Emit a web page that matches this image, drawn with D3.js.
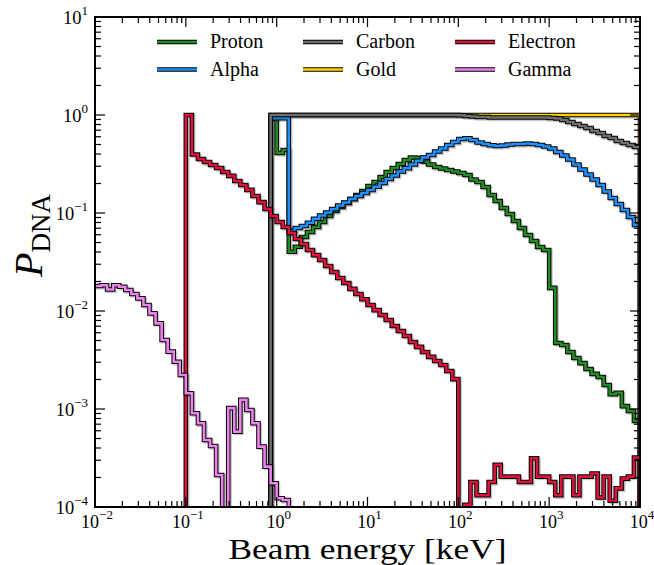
<!DOCTYPE html>
<html><head><meta charset="utf-8">
<script src="https://cdn.jsdelivr.net/npm/d3@7"></script>
<style>
body{margin:0;background:#fff}
svg{display:block}
text{font-family:"Liberation Serif","Times New Roman",serif;fill:#000}
</style>
</head><body>
<svg id="chart" width="654" height="565"></svg>
<script>
// ---- bin grid: logarithmic histogram bins ----
const xDomain = [1e-2, 1e4];
const binsPerDecade = 15;
const nBins = 90;

// ---- series (values per bin, starting at a bin index) ----
const protonStart = 29;
const protonValues = [0.93, 0.41, 0.44, 0.0403, 0.0453, 0.0569, 0.0640, 0.0720, 0.0809, 0.0931,
  0.1047, 0.1151, 0.1265, 0.1390, 0.1527, 0.1677, 0.1887, 0.2072, 0.2330, 0.2620,
  0.2878, 0.3162, 0.3475, 0.3681, 0.3640, 0.3356, 0.3126, 0.2946, 0.2846, 0.2748,
  0.2651, 0.2560, 0.2443, 0.2200, 0.2072, 0.1841, 0.1527, 0.1324, 0.1125, 0.0977,
  0.0828, 0.0703, 0.0597, 0.0518, 0.0450, 0.0419, 0.0172, 0.00471, 0.00450, 0.00382,
  0.00331, 0.00294, 0.00256, 0.00228, 0.00212, 0.00176, 0.00142, 0.00146, 0.00107, 0.000955,
  0.000755];

const alphaStart = 29;
const alphaValues = [0.93, 0.93, 0.93, 0.0655, 0.0703, 0.0736, 0.0796, 0.0875, 0.0943, 0.1012,
  0.1099, 0.1194, 0.1280, 0.1390, 0.1491, 0.1600, 0.1718, 0.1855, 0.2023, 0.2223,
  0.2415, 0.2650, 0.2858, 0.3126, 0.3419, 0.3681, 0.3908, 0.4246, 0.4550, 0.4943,
  0.5300, 0.5691, 0.5785, 0.5559, 0.5241, 0.5059, 0.4906, 0.4831, 0.4887, 0.5000,
  0.5059, 0.5059, 0.5117, 0.5059, 0.4943, 0.4775, 0.4550, 0.4190, 0.3864, 0.3516,
  0.3126, 0.2780, 0.2472, 0.2198, 0.1932, 0.1656, 0.1422, 0.1236, 0.1074, 0.0910,
  0.0755];

const carbonStart = 29;
const carbonValues = [1, 1, 1, 1, 1, 1, 1, 1, 1, 1,
  1, 1, 1, 1, 1, 1, 1, 1, 1, 1,
  1, 1, 1, 1, 1, 1, 1, 1, 1, 1,
  1, 0.995, 0.977, 0.965, 0.954, 0.954, 0.943, 0.943, 0.943, 0.943,
  0.943, 0.943, 0.943, 0.943, 0.943, 0.943, 0.932, 0.921, 0.889, 0.849,
  0.809, 0.772, 0.737, 0.687, 0.655, 0.610, 0.582, 0.543, 0.518, 0.494,
  0.471];

const goldStart = 29;
const goldValues = [1, 1, 1, 1, 1, 1, 1, 1, 1, 1,
  1, 1, 1, 1, 1, 1, 1, 1, 1, 1,
  1, 1, 1, 1, 1, 1, 1, 1, 1, 1,
  1, 1, 1, 1, 1, 1, 1, 1, 1, 1,
  1, 1, 1, 1, 1, 1, 1, 1, 1, 1,
  1, 1, 1, 1, 1, 1, 1, 1, 1, 1,
  1];

const electronStart = 15;
const electronValues = [1.0, 0.395, 0.356, 0.331, 0.309, 0.288, 0.262, 0.239, 0.212, 0.193,
  0.172, 0.149, 0.129, 0.110, 0.0931, 0.0809, 0.0720, 0.0625, 0.0543, 0.0483,
  0.0419, 0.0372, 0.0331, 0.0288, 0.0250, 0.0217, 0.0193, 0.0168, 0.0149, 0.0132,
  0.0115, 0.0102, 0.0091, 0.0081, 0.00703, 0.00625, 0.00556, 0.00483, 0.00430, 0.00382,
  0.00340, 0.00309, 0.00281, 0.00244, 0.00202, 0, 1.05e-4, 1.8e-4, 1.32e-4, 1.32e-4,
  1.8e-4, 2.7e-4, 2.04e-4, 2.04e-4, 2.04e-4, 1.8e-4, 1.8e-4, 3.14e-4, 2.04e-4, 2.04e-4,
  1.8e-4, 1.32e-4, 2.04e-4, 2.04e-4, 1.32e-4, 2.04e-4, 2.04e-4, 2.2e-4, 1.25e-4, 2.04e-4,
  1.16e-4, 1.55e-4, 1.95e-4, 2.04e-4, 3.2e-4];

const gammaStart = 0;
const gammaValues = [0.0180, 0.0183, 0.0166, 0.0183, 0.0177, 0.0164, 0.0149, 0.01345, 0.0115, 0.00946,
  0.00748, 0.00506, 0.00385, 0.00304, 0.00222, 0.00145, 0.000904, 0.000715, 0.000483, 0.000419,
  0.000212, 0, 0.00102, 0.000587, 0.00124, 0.000977, 0.000715, 0.000413, 0.000258, 0.000175,
  0.000123, 0.000118];

const seriesNames = ["Proton", "Alpha", "Carbon", "Gold", "Electron", "Gamma"];
const seriesColors = ["#228b22", "#1e90ff", "#6e6e6e", "#ffd200", "#dc143c", "#ee82ee"];
const xTickExps = [-2, -1, 0, 1, 2, 3, 4];
const yTickExps = [-4, -3, -2, -1, 0, 1];
const xLabel = "Beam energy [keV]";

// ---- layout ----
const margin = {left: 95, right: 14, top: 17, bottom: 58};
const W = 654, H = 565;
const svg = d3.select("#chart");
const x = d3.scaleLog().domain(xDomain).range([margin.left, W - margin.right]);
const y = d3.scaleLog().domain([1e-4, 1e1]).range([H - margin.bottom, margin.top]);
const [x0, x1] = x.range(), [y0, y1] = y.range();

svg.append("defs").append("clipPath").attr("id", "clip")
  .append("rect").attr("x", x0).attr("y", y1).attr("width", x1 - x0).attr("height", y0 - y1);

function edge(i) { return Math.pow(10, Math.log10(xDomain[0]) + i / binsPerDecade); }

function stepPoints(start, vals) {
  const below = y0 + 30;
  const pts = [];
  if (start > 0) pts.push([x(edge(start)), below]);
  vals.forEach((v, i) => {
    const yy = v > 0 ? y(v) : below;
    pts.push([x(edge(start + i)) - (i === 0 && start === 0 ? 4 : 0), yy]);
    pts.push([x(edge(start + i + 1)), yy]);
  });
  pts.push([x(edge(start + vals.length)), below]);
  return pts;
}

const line = d3.line();
const plot = svg.append("g").attr("clip-path", "url(#clip)");

const series = [
  {name: "Gold", start: goldStart, vals: goldValues, color: seriesColors[3]},
  {name: "Proton", start: protonStart, vals: protonValues, color: seriesColors[0]},
  {name: "Alpha", start: alphaStart, vals: alphaValues, color: seriesColors[1]},
  {name: "Carbon", start: carbonStart, vals: carbonValues, color: seriesColors[2]},
  {name: "Electron", start: electronStart, vals: electronValues, color: seriesColors[4]},
  {name: "Gamma", start: gammaStart, vals: gammaValues, color: seriesColors[5]},
];

series.forEach(s => {
  const d = line(stepPoints(s.start, s.vals));
  const g = plot.append("g");
  g.append("path").attr("d", d).attr("fill", "none").attr("stroke", "#000")
    .attr("stroke-opacity", 0.2).attr("stroke-width", 4.6).attr("transform", "translate(1.4,1.4)");
  g.append("path").attr("d", d).attr("fill", "none").attr("stroke", "#000")
    .attr("stroke-width", 4.6);
  g.append("path").attr("d", d).attr("fill", "none").attr("stroke", s.color)
    .attr("stroke-width", 2.6);
});

// ---- axes: ticks inward on all sides ----
const minorTicks = [];
for (let e = -4; e < 5; e++) for (let m = 2; m <= 9; m++) minorTicks.push(m * Math.pow(10, e));
const axG = svg.append("g");
const xMinor = minorTicks.filter(v => v > xDomain[0] && v < xDomain[1]);
const yMinor = minorTicks.filter(v => v > 1e-4 && v < 1e1);
function tick(ax, ay, bx, by) {
  axG.append("line").attr("x1", ax).attr("y1", ay).attr("x2", bx).attr("y2", by)
    .attr("stroke", "#000").attr("stroke-width", 1.2);
}
const majL = 10, minL = 6;
xTickExps.forEach(e => { const px = x(Math.pow(10, e)); tick(px, y0, px, y0 - majL); tick(px, y1, px, y1 + majL); });
xMinor.forEach(v => { const px = x(v); tick(px, y0, px, y0 - minL); tick(px, y1, px, y1 + minL); });
yTickExps.forEach(e => { const py = y(Math.pow(10, e)); tick(x0, py, x0 + majL, py); tick(x1, py, x1 - majL, py); });
yMinor.forEach(v => { const py = y(v); tick(x0, py, x0 + minL, py); tick(x1, py, x1 - minL, py); });

axG.append("rect").attr("x", x0).attr("y", y1).attr("width", x1 - x0).attr("height", y0 - y1)
  .attr("fill", "none").attr("stroke", "#000").attr("stroke-width", 2);

function expText(sel, e) {
  sel.append("tspan").text("10");
  sel.append("tspan").attr("dy", -9).attr("font-size", 13).text(e < 0 ? "\u2212" + (-e) : String(e));
}
xTickExps.forEach(e => {
  const t = svg.append("text").attr("x", x(Math.pow(10, e)) + 2).attr("y", 528)
    .attr("text-anchor", "middle").attr("font-size", 18);
  expText(t, e);
});
yTickExps.forEach(e => {
  const t = svg.append("text").attr("x", 88).attr("y", y(Math.pow(10, e)) + 7)
    .attr("text-anchor", "end").attr("font-size", 18.5);
  expText(t, e);
});

svg.append("text").attr("x", (x0 + x1) / 2).attr("y", 559).attr("text-anchor", "middle")
  .attr("font-size", 30).attr("textLength", 278).attr("lengthAdjust", "spacingAndGlyphs").text(xLabel);

const yl = svg.append("text").attr("transform", "translate(42,277) rotate(-90)");
yl.append("tspan").attr("font-style", "italic").attr("font-size", 40).text("P");
yl.append("tspan").attr("font-size", 27).attr("dy", 8).text("DNA");

// ---- legend (3 columns x 2 rows, filled column by column) ----
const legCols = [157, 303, 455];
const legRows = [42, 69.5];
seriesNames.forEach((nm, i) => {
  const col = Math.floor(i / 2), row = i % 2;
  const lx = legCols[col], ly = legRows[row];
  const lg = svg.append("g");
  lg.append("line").attr("x1", lx).attr("x2", lx + 40).attr("y1", ly).attr("y2", ly)
    .attr("stroke", "#000").attr("stroke-width", 4.6);
  lg.append("line").attr("x1", lx).attr("x2", lx + 40).attr("y1", ly).attr("y2", ly)
    .attr("stroke", seriesColors[i]).attr("stroke-width", 2.6);
  lg.append("text").attr("x", lx + 53).attr("y", ly + 6).attr("font-size", 20).text(nm);
});
</script>
</body></html>
